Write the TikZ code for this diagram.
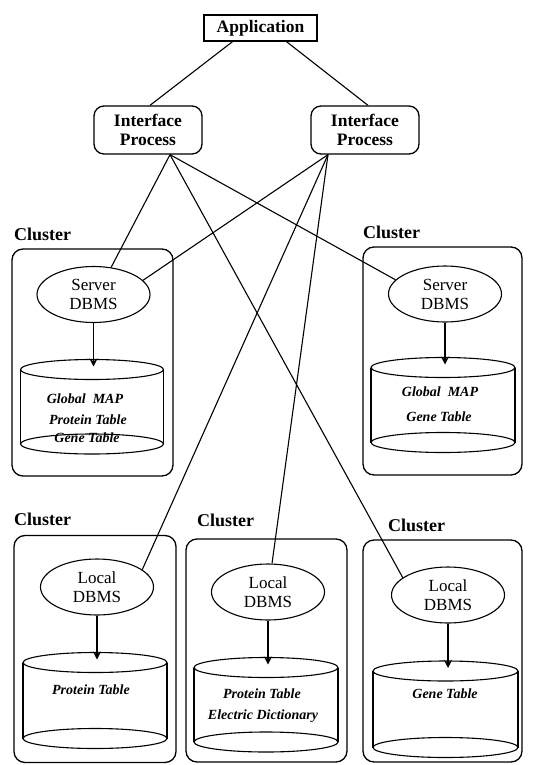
\documentclass[tikz,border=0pt]{standalone}
\usepackage{fontspec}
\setmainfont{Liberation Serif}
\usetikzlibrary{shapes.geometric,arrows.meta}
\tikzset{
  lnk/.style={line width=1.1pt},
  appbox/.style={draw, line width=1.3pt, minimum width=113pt, minimum height=26pt, inner sep=0pt,
    font=\fontsize{17.5}{19}\selectfont\bfseries},
  ipbox/.style={draw, line width=1.3pt, rounded corners=10pt, minimum width=108pt, minimum height=48pt,
    inner sep=0pt, align=center, font=\fontsize{17.5}{19}\selectfont\bfseries},
  clus/.style={draw, line width=1.3pt, rounded corners=11pt, inner sep=0pt},
  clab/.style={anchor=base west, inner sep=0pt, font=\fontsize{18}{19}\selectfont\bfseries},
  dbms/.style={draw, ellipse, line width=1.1pt, minimum width=113pt, minimum height=56pt, inner sep=0pt,
    align=center, font=\fontsize{17}{19}\selectfont},
  tbl/.style={anchor=base, inner sep=0pt, font=\fontsize{14}{16}\selectfont\bfseries\itshape},
  dbarrow/.style={line width=1.4pt, -{Stealth[length=8pt,width=8pt,inset=3pt]}},
  cylline/.style={line width=1.1pt}
}
% name, cx, ytop-centre, ybottom-centre, rx, ry
\newcommand\dbcyl[6]{%
  \draw[cylline] (#2,#3) ellipse [x radius=#5pt, y radius=#6pt];
  \draw[cylline] (#2,#4) ellipse [x radius=#5pt, y radius=#6pt];
  \draw[cylline] ({#2-#5},#3) -- ({#2-#5},#4) ({#2+#5},#3) -- ({#2+#5},#4);
  \coordinate (#1) at (#2,{#3-#6+7});
}
\begin{document}
\begin{tikzpicture}[x=1pt,y=-1pt]
\useasboundingbox (0,0) rectangle (542,765);
\fill[white] (0,0) rectangle (542,765);

% top
\node[appbox] (app) at (260.5,28) {Application};
\node[ipbox] (ip1) at (148,130) {Interface\\Process};
\node[ipbox] (ip2) at (365,130) {Interface\\Process};

% cluster boxes
\node[clus, minimum width=161pt, minimum height=227pt] (cl1) at (92.5,362.5) {};
\node[clus, minimum width=159pt, minimum height=228pt] (cl2) at (442.5,361) {};
\node[clus, minimum width=162pt, minimum height=227pt] (cl3) at (95,649) {};
\node[clus, minimum width=161pt, minimum height=223pt] (cl4) at (266.5,650.5) {};
\node[clus, minimum width=159pt, minimum height=222pt] (cl5) at (442.5,651) {};

\node[clab] (lab1) at (14,240) {Cluster};
\node[clab] (lab2) at (363,238) {Cluster};
\node[clab] (lab3) at (14,525) {Cluster};
\node[clab] (lab4) at (197,526) {Cluster};
\node[clab] (lab5) at (388,531) {Cluster};

% DBMS ellipses
\node[dbms] (sv1) at (93.5,294.5) {Server\\DBMS};
\node[dbms] (sv2) at (445,294) {Server\\DBMS};
\node[dbms] (lc1) at (97,587) {Local\\DBMS};
\node[dbms] (lc2) at (268,592) {Local\\DBMS};
\node[dbms] (lc3) at (448,595) {Local\\DBMS};

% cylinders
\dbcyl{cy1}{92}{369.5}{444}{71.5}{10}
\dbcyl{cy2}{443}{367.5}{442.5}{72}{10}
\dbcyl{cy3}{95}{662.5}{738.5}{72}{10}
\dbcyl{cy4}{266}{667.5}{742}{72}{10}
\dbcyl{cy5}{445.5}{671}{747.5}{72.5}{10}

% table texts
\node[tbl] (t1a) at (85,403) {Global\ \ MAP};
\node[tbl] (t1b) at (88,424) {Protein Table};
\node[tbl] (t1c) at (87,442) {Gene Table};
\node[tbl] (t2a) at (440,396) {Global\ \ MAP};
\node[tbl] (t2b) at (439,421) {Gene Table};
\node[tbl] (t3a) at (91,694) {Protein Table};
\node[tbl] (t4a) at (262,698) {Protein Table};
\node[tbl] (t4b) at (263,719) {Electric Dictionary};
\node[tbl] (t5a) at (445,698) {Gene Table};

% arrows DBMS -> storage
\draw[dbarrow] (sv1.south) -- (sv1.south |- cy1);
\draw[dbarrow] (sv2.south) -- (sv2.south |- cy2);
\draw[dbarrow] (lc1.south) -- (lc1.south |- cy3);
\draw[dbarrow] (lc2.south) -- (lc2.south |- cy4);
\draw[dbarrow] (lc3.south) -- (lc3.south |- cy5);

% application to interface processes
\draw[lnk] ([xshift=-28pt]app.south) -- ([xshift=2pt]ip1.north);
\draw[lnk] ([xshift=26pt]app.south) -- ([xshift=3pt]ip2.north);

% interface processes to DBMSs
\coordinate (ip1b) at ([xshift=22pt]ip1.south);
\coordinate (ip2b) at ([xshift=-37pt]ip2.south);
\draw[lnk] (ip1b) -- (sv1.57);
\draw[lnk] (ip1b) -- (sv2.164);
\draw[lnk] (ip1b) -- (lc3.159);
\draw[lnk] (ip2b) -- (sv1.16);
\draw[lnk] (ip2b) -- (lc1.21);
\draw[lnk] (ip2b) -- (lc2.82);
\end{tikzpicture}
\end{document}
